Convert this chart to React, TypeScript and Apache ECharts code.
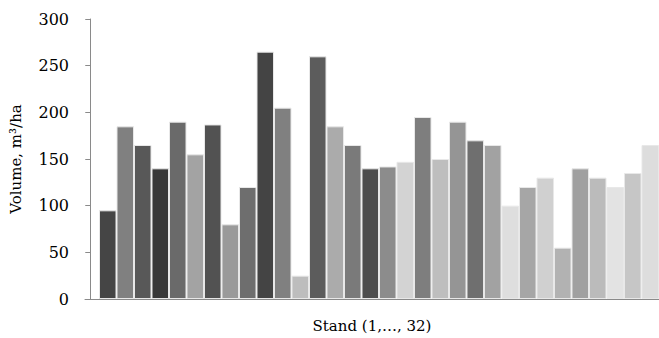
import React, { useEffect, useRef } from "react";
import * as echarts from "echarts";

const stands = Array.from({ length: 32 }, (_, i) => String(i + 1));
const volumes = [95, 185, 165, 140, 190, 155, 187, 80, 120, 265, 205, 25, 260, 185, 165, 140, 142, 147, 195, 150, 190, 170, 165, 100, 120, 130, 55, 140, 130, 120, 135, 165];
const barColors = [
  "#454545", "#808080", "#585858", "#383838", "#6a6a6a", "#a3a3a3", "#525252", "#9a9a9a",
  "#6e6e6e", "#444444", "#808080", "#bdbdbd", "#5c5c5c", "#ababab", "#7a7a7a", "#4d4d4d",
  "#8c8c8c", "#d3d3d3", "#7e7e7e", "#bebebe", "#959595", "#6f6f6f", "#a2a2a2", "#dedede",
  "#a6a6a6", "#d0d0d0", "#b2b2b2", "#a0a0a0", "#bbbbbb", "#e3e3e3", "#c6c6c6", "#dddddd",
];
const yTicks = [0, 50, 100, 150, 200, 250, 300];
const yName = "Volume, m\u00B3/ha";
const xName = "Stand (1,\u2026, 32)";

const FONT = "'DejaVu Serif', 'Liberation Serif', serif";

export default function App() {
  const ref = useRef<HTMLDivElement>(null);
  useEffect(() => {
    if (!ref.current) return;
    const chart = echarts.init(ref.current, undefined, { renderer: "svg" });
    chart.setOption({
      animation: false,
      backgroundColor: "#ffffff",
      grid: { left: 85, right: -1, top: 19, bottom: 33, containLabel: false },
      xAxis: {
        type: "value",
        min: -0.3,
        max: 32.5,
        name: xName,
        nameLocation: "middle",
        nameGap: 19,
        nameTextStyle: { fontFamily: FONT, fontSize: 15, color: "#000" },
        axisLine: { show: true, lineStyle: { color: "#8a8a8a", width: 1 } },
        axisTick: { show: false },
        axisLabel: { show: false },
        splitLine: { show: false },
      },
      yAxis: {
        type: "value",
        min: yTicks[0],
        max: yTicks[yTicks.length - 1],
        interval: 50,
        name: yName,
        nameLocation: "middle",
        nameGap: 62,
        nameTextStyle: { fontFamily: FONT, fontSize: 15, color: "#000" },
        axisLine: { show: true, lineStyle: { color: "#8a8a8a", width: 1 } },
        axisTick: { show: true, length: 5, inside: false, lineStyle: { color: "#8a8a8a" } },
        axisLabel: { fontFamily: FONT, fontSize: 16, color: "#000", margin: 16 },
        splitLine: { show: false },
      },
      series: [
        {
          type: "bar",
          barWidth: 17.5,
          data: volumes.map((v, i) => ({
            value: [i + 1, v],
            name: stands[i],
            itemStyle: { color: barColors[i], borderColor: "#e8e8e8", borderWidth: 1 },
          })),
        },
      ],
    });
    return () => chart.dispose();
  }, []);
  return (
    <div
      ref={ref}
      style={{ position: "fixed", left: 0, top: 0, width: 659, height: 338 }}
    />
  );
}
